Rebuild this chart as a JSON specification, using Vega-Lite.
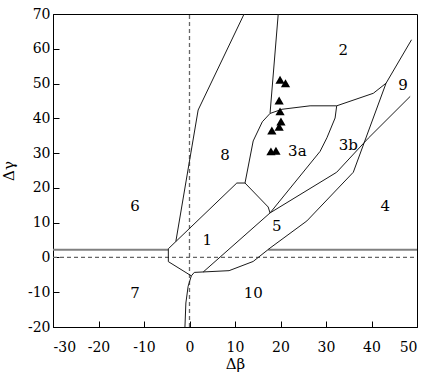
{
  "$schema": "https://vega.github.io/schema/vega-lite/v6.json",
  "width": 364,
  "height": 313,
  "autosize": "none",
  "padding": {"left": 53, "top": 14, "right": 14, "bottom": 50},
  "background": "white",
  "config": {
    "view": {"stroke": "black", "strokeWidth": 1},
    "font": "DejaVu Serif",
    "axis": {
      "domainColor": "black",
      "tickColor": "black",
      "tickSize": -6,
      "grid": false,
      "labelFont": "DejaVu Serif",
      "labelFontSize": 14,
      "labelColor": "black",
      "titleFont": "DejaVu Serif",
      "titleFontSize": 15,
      "titleFontWeight": "normal",
      "titleColor": "black"
    }
  },
  "datasets": {
    "black": [
      {"s": "A", "o": 1, "x": 12, "y": 70},
      {"s": "A", "o": 2, "x": 1.9, "y": 42.4},
      {"s": "A", "o": 3, "x": -3.0, "y": 4.6},
      {"s": "H", "o": 1, "x": 17.7, "y": 12.8},
      {"s": "H", "o": 2, "x": 17.3, "y": 14.5},
      {"s": "H", "o": 3, "x": 12.2, "y": 21.4},
      {"s": "H", "o": 4, "x": 10.4, "y": 21.4},
      {"s": "H", "o": 5, "x": -4.65, "y": 2.5},
      {"s": "H", "o": 6, "x": -4.65, "y": -1.2},
      {"s": "H", "o": 7, "x": 0.4, "y": -5.3},
      {"s": "C", "o": 1, "x": 0.4, "y": -5.3},
      {"s": "C", "o": 2, "x": -0.3, "y": -8.3},
      {"s": "C", "o": 3, "x": -0.8, "y": -13.1},
      {"s": "C", "o": 4, "x": -1.0, "y": -20},
      {"s": "P", "o": 1, "x": 0.4, "y": -5.3},
      {"s": "P", "o": 2, "x": 1.05, "y": -4.3},
      {"s": "P", "o": 3, "x": 8.7, "y": -3.8},
      {"s": "P", "o": 4, "x": 14.0, "y": -1.15},
      {"s": "P", "o": 5, "x": 17.7, "y": 2.7},
      {"s": "P", "o": 6, "x": 25.8, "y": 10.5},
      {"s": "P", "o": 7, "x": 36.0, "y": 24.5},
      {"s": "P", "o": 8, "x": 43.2, "y": 50.1},
      {"s": "P", "o": 9, "x": 48.8, "y": 62.6},
      {"s": "Q", "o": 1, "x": 3.0, "y": -4.2},
      {"s": "Q", "o": 2, "x": 17.7, "y": 12.8},
      {"s": "Q", "o": 3, "x": 32.35, "y": 24.5},
      {"s": "Q", "o": 4, "x": 39.3, "y": 34.3},
      {"s": "Q", "o": 5, "x": 48.5, "y": 46.3},
      {"s": "V", "o": 1, "x": 19.5, "y": 70},
      {"s": "V", "o": 2, "x": 17.7, "y": 41.4},
      {"s": "L", "o": 1, "x": 17.7, "y": 41.4},
      {"s": "L", "o": 2, "x": 16.0, "y": 39.0},
      {"s": "L", "o": 3, "x": 14.0, "y": 33.5},
      {"s": "L", "o": 4, "x": 12.2, "y": 21.4},
      {"s": "T", "o": 1, "x": 17.7, "y": 41.4},
      {"s": "T", "o": 2, "x": 20.3, "y": 42.6},
      {"s": "T", "o": 3, "x": 26.5, "y": 43.6},
      {"s": "T", "o": 4, "x": 32.35, "y": 43.6},
      {"s": "T", "o": 5, "x": 40.4, "y": 47.2},
      {"s": "T", "o": 6, "x": 43.2, "y": 50.1},
      {"s": "B", "o": 1, "x": 32.35, "y": 43.6},
      {"s": "B", "o": 2, "x": 32.0, "y": 40.1},
      {"s": "B", "o": 3, "x": 30.2, "y": 34.4},
      {"s": "B", "o": 4, "x": 28.7, "y": 30.5},
      {"s": "B", "o": 5, "x": 17.7, "y": 12.8}
    ],
    "gray": [
      {"s": "G1", "o": 1, "x": -30, "y": 2.2},
      {"s": "G1", "o": 2, "x": -4.65, "y": 2.2},
      {"s": "G2", "o": 1, "x": 17.3, "y": 2.2},
      {"s": "G2", "o": 2, "x": 50, "y": 2.2}
    ],
    "dashed": [
      {"s": "D1", "o": 1, "x": -30, "y": 0},
      {"s": "D1", "o": 2, "x": 50, "y": 0},
      {"s": "D2", "o": 1, "x": 0, "y": -20},
      {"s": "D2", "o": 2, "x": 0, "y": 70}
    ],
    "points": [
      {"x": 19.9, "y": 51.1},
      {"x": 21.1, "y": 50.1},
      {"x": 19.7, "y": 45.1},
      {"x": 19.9, "y": 42.0},
      {"x": 20.1, "y": 39.1},
      {"x": 19.7, "y": 37.6},
      {"x": 18.1, "y": 36.5},
      {"x": 17.9, "y": 30.5},
      {"x": 19.0, "y": 30.7}
    ],
    "labels": [
      {"t": "2", "x": 33.8, "y": 59.7},
      {"t": "9", "x": 46.9, "y": 49.6},
      {"t": "3a", "x": 23.7, "y": 30.5},
      {"t": "3b", "x": 34.9, "y": 32.4},
      {"t": "8", "x": 7.8, "y": 29.5},
      {"t": "6", "x": -12.0, "y": 14.9},
      {"t": "1", "x": 3.9, "y": 4.9},
      {"t": "7", "x": -12.0, "y": -10.2},
      {"t": "10", "x": 14.0, "y": -10.2},
      {"t": "5", "x": 19.2, "y": 8.9},
      {"t": "4", "x": 43.0, "y": 14.9}
    ]
  },
  "encoding": {
    "x": {
      "field": "x", "type": "quantitative",
      "scale": {"domain": [-30, 50], "nice": false, "zero": false},
      "axis": {
        "title": "Δβ",
        "values": [-30, -20, -10, 0, 10, 20, 30, 40, 50],
        "labelPadding": 19,
        "titlePadding": 2,
        "labelExpr": "datum.value < 0 ? '-' + abs(datum.value) : '' + datum.value"
      }
    },
    "y": {
      "field": "y", "type": "quantitative",
      "scale": {"domain": [-20, 70], "nice": false, "zero": false},
      "axis": {
        "title": "Δγ",
        "values": [-20, -10, 0, 10, 20, 30, 40, 50, 60, 70],
        "labelPadding": 9,
        "titlePadding": 11,
        "labelExpr": "datum.value < 0 ? '-' + abs(datum.value) : '' + datum.value"
      }
    }
  },
  "layer": [
    {
      "data": {"name": "dashed"},
      "mark": {"type": "line", "color": "#666666", "strokeWidth": 1.3, "strokeDash": [4, 3]},
      "encoding": {"detail": {"field": "s"}, "order": {"field": "o"}}
    },
    {
      "data": {"name": "gray"},
      "mark": {"type": "line", "color": "#808080", "strokeWidth": 2},
      "encoding": {"detail": {"field": "s"}, "order": {"field": "o"}}
    },
    {
      "data": {"name": "black"},
      "mark": {"type": "line", "color": "#1a1a1a", "strokeWidth": 1},
      "encoding": {"detail": {"field": "s"}, "order": {"field": "o"}}
    },
    {
      "data": {"name": "points"},
      "mark": {"type": "point", "shape": "triangle-up", "filled": true, "color": "black", "size": 85, "opacity": 1}
    },
    {
      "data": {"name": "labels"},
      "mark": {"type": "text", "font": "DejaVu Serif", "fontSize": 15, "color": "black"},
      "encoding": {"text": {"field": "t"}}
    }
  ]
}
